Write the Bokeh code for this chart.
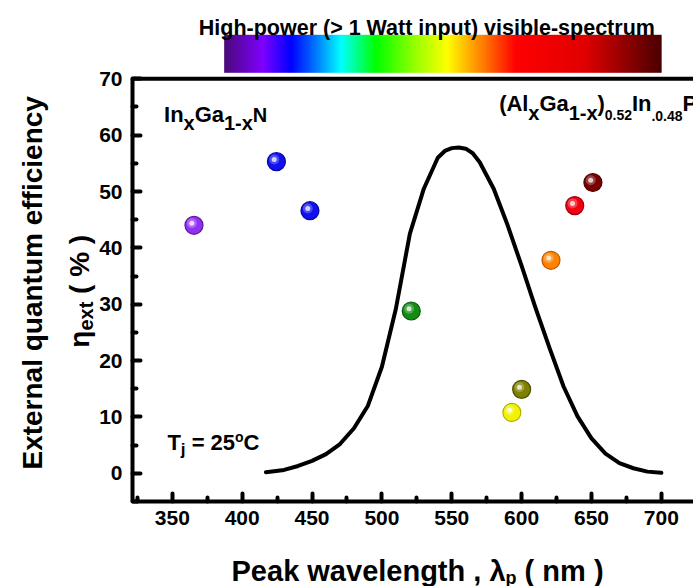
import numpy as np
from bokeh.plotting import figure
from bokeh.layouts import column, row
from bokeh.models import Range1d, FixedTicker, Span
from bokeh.core.properties import value
from bokeh.embed import file_html
from bokeh.resources import INLINE

# ---------------- data ----------------
LED_WAVELENGTH = [365.5, 424.5, 448.5, 521, 593, 600, 621, 638, 651]
LED_EQE = [44.0, 55.3, 46.6, 28.8, 10.8, 14.9, 37.8, 47.5, 51.6]
LED_COLOR = ["#9030f0", "#1010f0", "#1010f0", "#138c13", "#f2f200",
             "#7f7f00", "#ff8200", "#f20010", "#7a0000"]
LED_EDGE = ["#5e1aa0", "#0808a0", "#0808a0", "#0a5a0a", "#b0b000",
            "#4f4f00", "#c05a00", "#a00008", "#4a0000"]

CURVE_WAVELENGTH = [417, 430, 440, 450, 460, 470, 480, 490, 500, 510, 520, 530,
                    540, 545, 550, 555, 560, 565, 570, 580, 590, 600, 610, 620,
                    630, 640, 650, 660, 670, 680, 690, 700]
CURVE_EQE = [0.2, 0.6, 1.3, 2.2, 3.4, 5.2, 8.0, 12.0, 18.9, 29.2, 42.5, 50.5,
             56.0, 57.2, 57.7, 57.8, 57.6, 56.8, 55.2, 50.5, 44.0, 36.8, 29.3, 22.2,
             15.4, 10.1, 6.2, 3.5, 1.8, 0.9, 0.3, 0.1]

SPECTRUM_NM = [387.1, 414.4, 434.8, 449.9, 470.6, 495.4, 524.0, 546.6,
               569.2, 595.6, 645.5, 700.2]
SPECTRUM_COLOR = ["#4a0a7a", "#8000ff", "#0000ff", "#0066ff", "#00ffff", "#00ff00",
                  "#99ff00", "#ffff00", "#ff8c00", "#ff0000", "#e00000", "#4a0000"]
SPECTRUM_TITLE = "High-power (> 1 Watt input) visible-spectrum"

X_TICKS = [350, 400, 450, 500, 550, 600, 650, 700]
Y_TICKS = [0, 10, 20, 30, 40, 50, 60, 70]
X_RANGE = (321.5, 723.0)
Y_AXIS_SPAN = (-5, 70)

# ---------------- geometry / style ----------------
FONT = "Liberation Sans"
W = 693
H = 586
FRAME_LEFT = 130    # frame left edge
LW = 96             # width of the left title strip
MB_BOTTOM = 39
FRAME_H = 501       # frame from the top of the page down to the x axis
MAIN_H = FRAME_H + MB_BOTTOM
BOT_H = H - MAIN_H
PX_X = (W - FRAME_LEFT) / (X_RANGE[1] - X_RANGE[0])
PX_Y = 5.636
Y_TOP = Y_AXIS_SPAN[0] + FRAME_H / PX_Y     # frame reaches up to the spectrum bar

ADV = {' ': 278, '(': 333, ')': 333, '-': 333, '.': 278, ',': 278, '%': 889, '=': 584,
       '>': 584, 'A': 722, 'C': 722, 'E': 667, 'G': 778, 'H': 722, 'I': 278, 'N': 722,
       'P': 667, 'T': 611, 'W': 944, 'a': 556, 'b': 611, 'c': 556, 'e': 556, 'f': 333,
       'g': 611, 'h': 611, 'i': 278, 'j': 278, 'k': 556, 'l': 278, 'm': 889, 'n': 611,
       'o': 611, 'p': 611, 'q': 611, 'r': 389, 's': 556, 't': 333, 'u': 611, 'v': 556,
       'w': 778, 'x': 556, 'y': 556, 'λ': 556, 'η': 611}


def tw(s, size):
    return sum(ADV.get(c, 556) for c in s) * size / 1000.0


def rich(fig, x0, y0, pieces, sx, sy, center=False, rotated=False):
    """Draw a run of text pieces (text, font px, baseline shift px) one after another."""
    total = sum(tw(s, sz) for s, sz, dy in pieces)
    cur = -total / 2 if center else 0.0
    for s, sz, dy in pieces:
        lead = len(s) - len(s.lstrip(' '))
        cur += tw(' ' * lead, sz)
        t = s.strip(' ')
        if rotated:
            x = x0 - dy / sx
            y = y0 + cur / sy
        else:
            x = x0 + cur / sx
            y = y0 + dy / sy
        fig.text(x=[x], y=[y], text=[t], text_font=value(FONT),
                 text_font_size=f"{sz}px", text_font_style="bold", text_color="black",
                 text_align="left", text_baseline="alphabetic",
                 angle=(np.pi / 2 if rotated else 0))
        cur += tw(t, sz) + tw(' ' * (len(s) - lead - len(t)), sz)


def bare(fig):
    fig.axis.visible = False
    fig.grid.visible = False
    fig.outline_line_color = None
    fig.background_fill_color = None
    fig.border_fill_color = None


x_range = Range1d(*X_RANGE)
y_range = Range1d(Y_AXIS_SPAN[0], Y_TOP)

# ---------------- left strip: y-axis title ----------------
left = figure(width=LW, height=MAIN_H, x_range=Range1d(0, LW), y_range=y_range,
              output_backend="svg", toolbar_location=None,
              min_border_left=0, min_border_right=0, min_border_top=0,
              min_border_bottom=MB_BOTTOM)
bare(left)
left.text(x=[32], y=[33.8], text=["External quantum efficiency"], text_font=value(FONT),
          text_font_size="28px", text_font_style="bold", text_color="black",
          text_align="center", text_baseline="alphabetic", angle=np.pi / 2)
rich(left, 79, 32.3, [("η", 28, 0), ("ext", 20, -6), (" ( % )", 28, 0)],
     1.0, PX_Y, center=True, rotated=True)

# ---------------- main plot ----------------
p = figure(width=W - LW, height=MAIN_H, x_range=x_range, y_range=y_range,
           output_backend="svg", toolbar_location=None,
           min_border_left=FRAME_LEFT - LW, min_border_right=0, min_border_top=0,
           min_border_bottom=MB_BOTTOM)
p.grid.visible = False
p.outline_line_color = None
p.background_fill_color = "white"

x_minor = [t - 25 for t in X_TICKS] + [X_TICKS[-1] + 25]
y_minor = [t - 5 for t in Y_TICKS]
p.xaxis.ticker = FixedTicker(ticks=X_TICKS, minor_ticks=x_minor)
p.yaxis.ticker = FixedTicker(ticks=Y_TICKS, minor_ticks=y_minor)
p.yaxis.bounds = Y_AXIS_SPAN

for ax in list(p.xaxis) + list(p.yaxis):
    ax.axis_line_width = 4
    ax.axis_line_color = "black"
    ax.major_tick_in = 8
    ax.major_tick_out = 0
    ax.major_tick_line_width = 4
    ax.major_tick_line_cap = "round"
    ax.minor_tick_in = 4
    ax.minor_tick_out = 0
    ax.minor_tick_line_width = 4
    ax.minor_tick_line_cap = "round"
    ax.major_label_text_font = FONT
    ax.major_label_text_font_style = "bold"
    ax.major_label_text_font_size = "21px"
    ax.major_label_text_color = "black"
p.yaxis.major_label_standoff = 10
p.xaxis.major_label_standoff = 9

# top frame line
p.add_layout(Span(location=Y_AXIS_SPAN[1], dimension="width", line_color="black", line_width=4))

# visible-spectrum bar and its title (above the frame line)
N = 600
pos = np.linspace(SPECTRUM_NM[0], SPECTRUM_NM[-1], N)
rgb = np.array([[int(c[i:i + 2], 16) for i in (1, 3, 5)] for c in SPECTRUM_COLOR], dtype=float)
img = np.empty((1, N), dtype=np.uint32)
view = img.view(dtype=np.uint8).reshape((1, N, 4))
for ch in range(3):
    view[0, :, ch] = np.interp(pos, SPECTRUM_NM, rgb[:, ch]).astype(np.uint8)
view[0, :, 3] = 255
bar_y0 = Y_AXIS_SPAN[1] + 6 / PX_Y
p.image_rgba(image=[img], x=SPECTRUM_NM[0], y=bar_y0,
             dw=SPECTRUM_NM[-1] - SPECTRUM_NM[0], dh=38 / PX_Y)
p.text(x=[(SPECTRUM_NM[0] + SPECTRUM_NM[-1]) / 2 - 11.5], y=[Y_AXIS_SPAN[1] + 51.3 / PX_Y],
       text=[SPECTRUM_TITLE], text_font=value(FONT), text_font_size="21.5px",
       text_font_style="bold", text_color="black", text_align="center",
       text_baseline="alphabetic")

# eye-sensitivity curve
p.line(CURVE_WAVELENGTH, CURVE_EQE, line_width=4, line_color="black",
       line_join="round", line_cap="round")

# LED spheres
p.scatter(LED_WAVELENGTH, LED_EQE, size=18, fill_color=LED_COLOR, line_color=LED_EDGE,
          line_width=1.2)
hx = [v - 2.2 / PX_X for v in LED_WAVELENGTH]
hy = [v + 2.2 / PX_Y for v in LED_EQE]
p.scatter(hx, hy, size=10, fill_color="white", fill_alpha=0.25, line_color=None)
p.scatter(hx, hy, size=5, fill_color="white", fill_alpha=0.75, line_color=None)

# in-plot labels
rich(p, 344.1, 63.7, [("In", 22, 0), ("x", 20, -9), ("Ga", 22, 0), ("1-x", 20, -9), ("N", 20, -1)],
     PX_X, PX_Y)
rich(p, 583.9, 65.6, [("(Al", 22, 0), ("x", 20, -9), ("Ga", 22, 0), ("1-x", 20, -9), (")", 22, 0),
                      ("0.52", 14, -11), ("In", 22, 0), (".0.48", 14, -12), ("P", 22, 0)],
     PX_X, PX_Y)
rich(p, 346.5, 5.46, [("T", 22, 0), ("j", 17, -7), (" = 25", 22, 0), ("o", 14, 6), ("C", 22, 0)],
     PX_X, PX_Y)

# ---------------- bottom strip: x-axis title ----------------
bottom = figure(width=W, height=BOT_H, x_range=x_range, y_range=Range1d(0, BOT_H),
                output_backend="svg", toolbar_location=None,
                min_border_left=FRAME_LEFT, min_border_right=0, min_border_top=0,
                min_border_bottom=0)
bare(bottom)
rich(bottom, 526.2, 16, [("Peak wavelength , λ", 29, 0), ("p", 18, -7), (" ( nm )", 29, 0)],
     PX_X, 1.0, center=True)

layout = column(row(left, p, spacing=0), bottom, spacing=0)
open("out.html", "w").write(file_html(layout, INLINE))
